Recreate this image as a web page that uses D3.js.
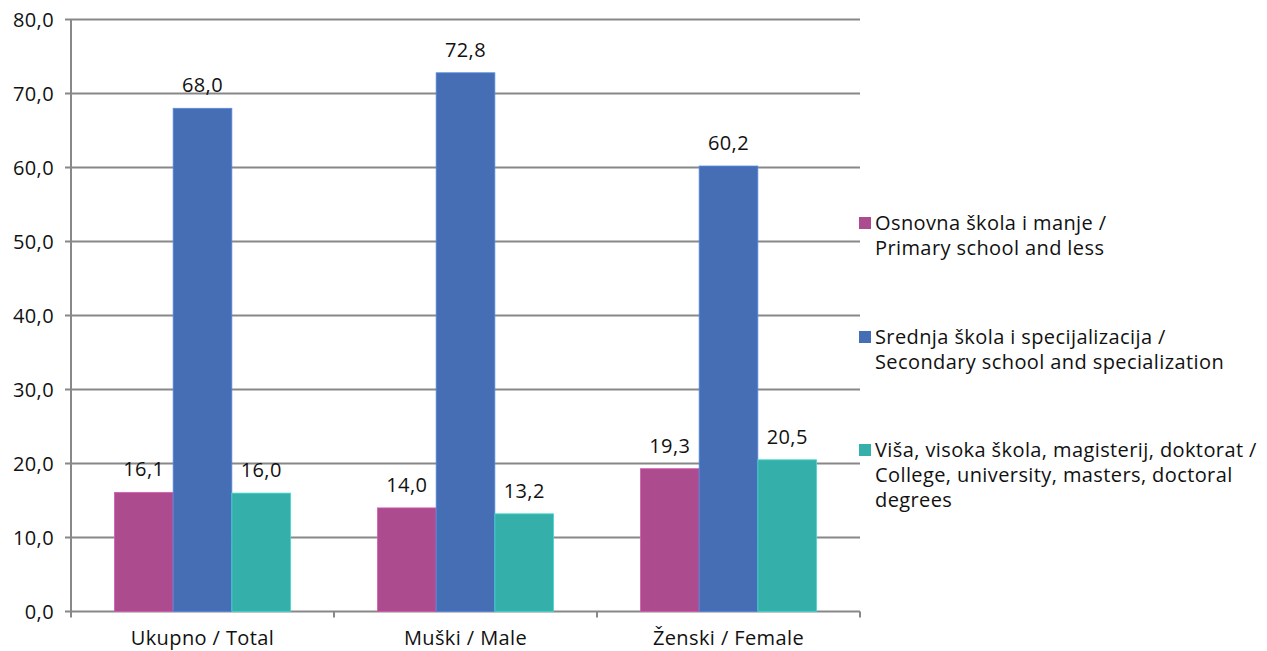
<!DOCTYPE html>
<meta charset="utf-8">
<body style="margin:0;background:#fff">
<style>

text {
  font-family: "Open Sans", sans-serif;
  fill: #111;
  font-size: 20px;
  letter-spacing: 0.4px;
}

.grid line {
  stroke: #888;
  stroke-width: 2px;
}

</style>
<script src="https://d3js.org/d3.v7.min.js"></script>
<script>

var categories = ["Ukupno / Total", "Muški / Male", "Ženski / Female"];
var seriesNames = [
  ["Osnovna škola i manje /", "Primary school and less"],
  ["Srednja škola i specijalizacija /", "Secondary school and specialization"],
  ["Viša, visoka škola, magisterij, doktorat /", "College, university, masters, doctoral", "degrees"]
];
var primary = [16.1, 14.0, 19.3];
var secondary = [68.0, 72.8, 60.2];
var college = [16.0, 13.2, 20.5];
var yTicks = [0, 10, 20, 30, 40, 50, 60, 70, 80];
var colors = ["#ad4b8f", "#466eb4", "#35afa9"];

var series = [primary, secondary, college];

var svg = d3.select("body").append("svg")
    .attr("width", 1267)
    .attr("height", 651);

var mLeft = 71, mRight = 860, mTop = 19.5, mBottom = 611.5;

var y = d3.scaleLinear().domain([0, 80]).range([mBottom, mTop]);
var x0 = d3.scaleBand().domain(categories).range([mLeft, mRight]).padding(0);
var x1 = d3.scaleBand().domain([0, 1, 2]).range([0, x0.bandwidth()])
    .paddingInner(0).paddingOuter(0.74);

var fmt = function(v) { return d3.format(".1f")(v).replace(".", ","); };

// gridlines
svg.append("g").attr("class", "grid")
  .selectAll("line")
  .data(yTicks)
  .enter().append("line")
    .attr("x1", mLeft - 6)
    .attr("x2", mRight)
    .attr("y1", function(d) { return y(d); })
    .attr("y2", function(d) { return y(d); });

// y axis line
svg.append("line")
    .attr("x1", mLeft).attr("x2", mLeft)
    .attr("y1", mTop).attr("y2", mBottom)
    .attr("stroke", "#888").attr("stroke-width", 2);

// category tick marks
svg.append("g").attr("class", "grid")
  .selectAll("line")
  .data(d3.range(categories.length + 1))
  .enter().append("line")
    .attr("x1", function(i) { return mLeft + i * x0.step(); })
    .attr("x2", function(i) { return mLeft + i * x0.step(); })
    .attr("y1", mBottom)
    .attr("y2", mBottom + 6);

// y tick labels
svg.append("g")
  .selectAll("text")
  .data(yTicks)
  .enter().append("text")
    .attr("x", mLeft - 17)
    .attr("y", function(d) { return y(d); })
    .attr("dy", "0.35em")
    .attr("text-anchor", "end")
    .text(fmt);

// bars
var groups = svg.append("g")
  .selectAll("g")
  .data(categories)
  .enter().append("g")
    .attr("transform", function(d) { return "translate(" + x0(d) + ",0)"; });

var cells = function(d, ci) {
  return series.map(function(s, si) { return {s: si, v: s[ci]}; });
};

groups.selectAll("rect")
  .data(cells)
  .enter().append("rect")
    .attr("x", function(d) { return x1(d.s); })
    .attr("width", x1.bandwidth())
    .attr("y", function(d) { return y(d.v); })
    .attr("height", function(d) { return mBottom - y(d.v); })
    .attr("fill", function(d) { return colors[d.s]; })
    .attr("stroke", function(d) { return d3.color(colors[d.s]).brighter(0.6); })
    .attr("stroke-width", 0.8);

groups.selectAll("text")
  .data(cells)
  .enter().append("text")
    .attr("x", function(d) { return x1(d.s) + x1.bandwidth() / 2; })
    .attr("y", function(d) { return y(d.v) - 16; })
    .attr("text-anchor", "middle")
    .text(function(d) { return fmt(d.v); });

// category labels
svg.append("g")
  .selectAll("text")
  .data(categories)
  .enter().append("text")
    .attr("x", function(d) { return x0(d) + x0.bandwidth() / 2; })
    .attr("y", 638)
    .attr("dy", "0.35em")
    .attr("text-anchor", "middle")
    .text(function(d) { return d; });

// legend
var legendY = [223, 337, 450];
var legend = svg.append("g")
  .selectAll("g")
  .data(seriesNames)
  .enter().append("g")
    .attr("transform", function(d, i) { return "translate(859," + legendY[i] + ")"; });

legend.append("rect")
    .attr("x", 0).attr("y", -6)
    .attr("width", 12).attr("height", 12)
    .attr("fill", function(d, i) { return colors[i]; });

legend.append("text")
    .selectAll("tspan")
    .data(function(d) { return d; })
    .enter().append("tspan")
      .attr("x", 16)
      .attr("y", function(d, i) { return i * 25; })
      .attr("dy", "0.35em")
      .text(function(d) { return d; });

</script>
</body>
